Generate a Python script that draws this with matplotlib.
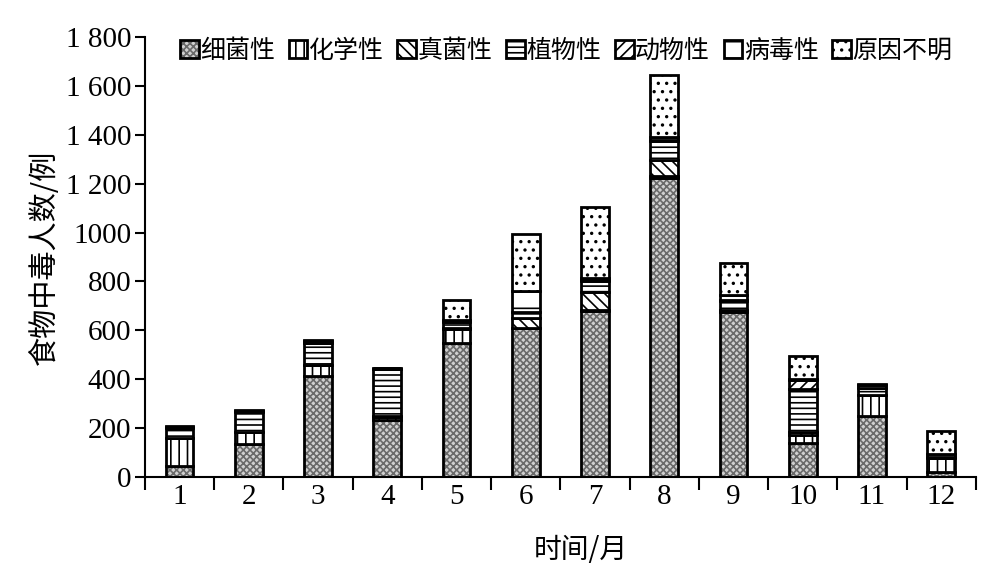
import matplotlib
matplotlib.use("Agg")
import matplotlib.pyplot as plt
from matplotlib.legend_handler import HandlerTuple
import numpy as np

months = ["1", "2", "3", "4", "5", "6", "7", "8", "9", "10", "11", "12"]
categories = ["细菌性", "化学性", "真菌性", "植物性", "动物性", "病毒性", "原因不明"]
bacterial = [45, 135, 415, 235, 550, 610, 680, 1225, 675, 140, 250, 20]
chemical = [115, 50, 45, 10, 55, 0, 5, 5, 10, 30, 85, 58]
fungal = [0, 0, 0, 5, 5, 40, 70, 65, 0, 15, 0, 0]
plant = [40, 80, 90, 190, 25, 25, 45, 80, 35, 175, 30, 5]
animal = [0, 0, 0, 0, 3, 0, 5, 5, 5, 35, 0, 0]
virus = [5, 5, 5, 5, 5, 85, 10, 10, 20, 5, 10, 12]
unknown = [5, 5, 5, 0, 80, 235, 290, 255, 130, 95, 5, 95]
yticks = [0, 200, 400, 600, 800, 1000, 1200, 1400, 1600, 1800]
yticklabels = ["0", "200", "400", "600", "800", "1000", "1 200", "1 400", "1 600", "1 800"]

series = [bacterial, chemical, fungal, plant, animal, virus, unknown]
hatches = ["xxxxx", "||", "\\\\\\", "---", "///", "-", ".."]
hatch_colors = ["#6a6a6a", "black", "black", "black", "black", "black", "black"]
faces = ["#d0d0d0", "white", "white", "white", "white", "white", "white"]

plt.rcParams["hatch.linewidth"] = 1.2
serif = ["Liberation Serif", "DejaVu Serif"]
cjk = ["Noto Sans CJK SC", "DejaVu Sans"]

fig = plt.figure(figsize=(9.89, 5.74), dpi=100)
ax = fig.add_axes([0.1466, 0.169, 0.84, 0.7665])

x = np.arange(len(months))
bottom = np.zeros(len(months))
handles = []
for vals, h, hc, fc, name in zip(series, hatches, hatch_colors, faces, categories):
    fill = ax.bar(x, vals, width=0.4, bottom=bottom, color=fc, edgecolor=hc,
                  linewidth=0, hatch=h)
    outline = ax.bar(x, vals, width=0.4, bottom=bottom, fill=False,
                     edgecolor="black", linewidth=2.0)
    handles.append((fill, outline))
    bottom += np.array(vals)

ax.set_xlim(-0.5, len(months) - 0.5)
ax.set_ylim(0, 1800)
ax.set_yticks(yticks)
ax.set_yticklabels(yticklabels, fontfamily=serif, fontsize=21)
ax.set_xticks(x)
ax.set_xticklabels(months, fontfamily=serif, fontsize=21)
ax.tick_params(axis="x", length=0, pad=5)
ax.set_xticks(np.arange(-0.5, len(months)), minor=True)
ax.tick_params(axis="x", which="minor", length=9, width=1.5, direction="out")
ax.tick_params(axis="y", length=7, width=1.5, direction="out", pad=3)

for s in ["top", "right"]:
    ax.spines[s].set_visible(False)
ax.spines["left"].set_linewidth(1.5)
ax.spines["bottom"].set_linewidth(1.5)

ax.set_xlabel("时间/月", fontfamily=cjk, fontsize=20, labelpad=18)
ax.xaxis.label.set_x(0.525)
ax.set_ylabel("食物中毒人数/例", fontfamily=cjk, fontsize=21, labelpad=4)

leg = ax.legend(handles=handles, labels=categories, loc="upper center",
                bbox_to_anchor=(0.507, 1.05),
                ncol=7, frameon=False, handlelength=0.75, handleheight=0.75,
                handletextpad=0.05, columnspacing=0.55,
                handler_map={tuple: HandlerTuple(ndivide=1, pad=0)},
                prop={"family": cjk, "size": 18})

fig.savefig("out.png", dpi=100)
